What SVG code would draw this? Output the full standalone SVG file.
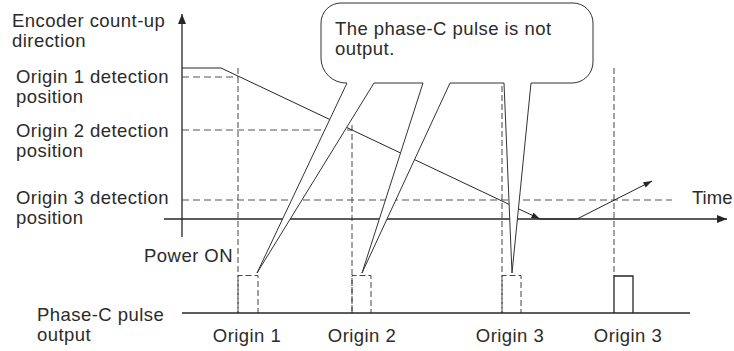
<svg xmlns="http://www.w3.org/2000/svg" width="734" height="351" viewBox="0 0 734 351">
<defs>
<style>
text{font-family:"Liberation Sans",Arial,sans-serif;font-size:18.5px;letter-spacing:0.45px;fill:#2b2b2b}
.ax{stroke:#262626;stroke-width:1.3;fill:none}
.tr{stroke:#262626;stroke-width:1;fill:none}
.dh{stroke:#555;stroke-width:1.2;stroke-dasharray:7 4;fill:none}
.dv{stroke:#444;stroke-width:1;stroke-dasharray:6 3;fill:none}
.call{fill:#fff;stroke:#333;stroke-width:1}
</style>
<marker id="ah" viewBox="0 0 10 8" refX="10" refY="4" markerWidth="10" markerHeight="8" markerUnits="userSpaceOnUse" orient="auto">
<path d="M0,0 L10,4 L0,8 Z" fill="#262626"/>
</marker>
<marker id="ahs" viewBox="0 0 10 7" refX="10" refY="3.5" markerWidth="9" markerHeight="6" markerUnits="userSpaceOnUse" orient="auto">
<path d="M0,0 L10,3.5 L0,7 Z" fill="#262626"/>
</marker>
</defs>
<rect width="734" height="351" fill="#fff"/>

<g id="guides">
<path class="dh" d="M182,77H238 M182,130H352 M182,200H672"/>
<path class="dv" d="M238,68V313 M352,125V313 M502,68V313 M614,68V276"/>
<path class="dv" d="M238,313V275.5H258V313 M352,313V275.5H371V313 M502,313V275.5H521V313"/>
</g>

<g id="axes">
<path class="ax" d="M182,237V14" marker-end="url(#ah)"/>
<path class="ax" d="M164,219H727" marker-end="url(#ah)"/>
<path class="ax" d="M182,313H690"/>
</g>

<g id="connectors">
<path class="tr" stroke-width="1.4" d="M182,68H221"/>
<path class="tr" d="M221,68L540,219" marker-end="url(#ahs)"/>
<path class="tr" stroke-width="2" d="M540,219H577"/>
<path class="tr" d="M577,219L652,181" marker-end="url(#ahs)"/>
<path class="ax" d="M614,313V276H633V313"/>
</g>

<g id="callout">
<path class="call" d="M347,83 L257,273 L374,83 L423,83 L362,273 L450,83 L504,83 L512,273 L531,83 L572,83 A21,21 0 0 0 593,62 L593,23 A20,20 0 0 0 573,3 L341,3 A20,20 0 0 0 321,23 L321,58 A25,25 0 0 0 347,83 Z"/>
<text x="335" y="35">The phase-C pulse is not</text>
<text x="335" y="55">output.</text>
</g>

<g id="labels">
<text x="12" y="27">Encoder count-up</text>
<text x="12" y="47">direction</text>
<text x="16" y="83">Origin 1 detection</text>
<text x="16" y="103">position</text>
<text x="16" y="137">Origin 2 detection</text>
<text x="16" y="157">position</text>
<text x="16" y="204">Origin 3 detection</text>
<text x="16" y="224">position</text>
<text x="233" y="262" text-anchor="end">Power ON</text>
<text x="37" y="321">Phase-C pulse</text>
<text x="37" y="341">output</text>
<text x="692" y="204" style="letter-spacing:0">Time</text>
<text x="247" y="342" text-anchor="middle">Origin 1</text>
<text x="362" y="342" text-anchor="middle">Origin 2</text>
<text x="510" y="342" text-anchor="middle">Origin 3</text>
<text x="628" y="342" text-anchor="middle">Origin 3</text>
</g>
</svg>
